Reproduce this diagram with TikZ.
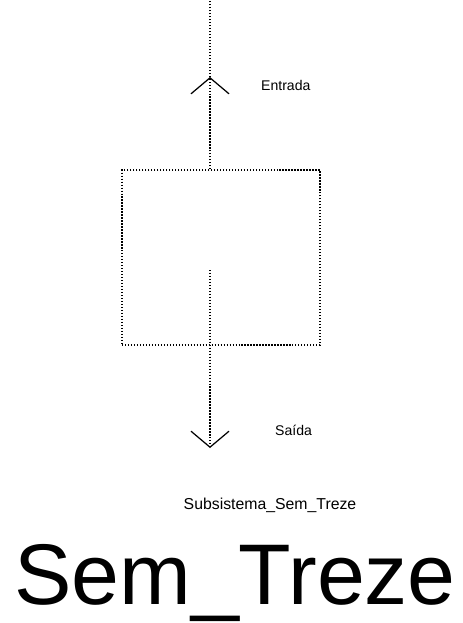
\documentclass[tikz,border=0pt]{standalone}
\usepackage{fontspec}
\setmainfont{Liberation Sans}
\usetikzlibrary{arrows.meta, positioning}

\begin{document}
\begin{tikzpicture}[x=0.02cm, y=-0.02cm,
      line/.style  = {densely dotted, line width=0.7pt},
      block/.style = {draw, densely dotted, line width=0.7pt,
                      minimum width=3.96cm, minimum height=3.5cm,
                      inner sep=0pt},
      flow/.style  = {line, -{Straight Barb[length=0.32cm, width=0.76cm]}},
      port/.style  = {font=\fontsize{8}{9}\selectfont, anchor=west},
      title/.style = {font=\fontsize{49}{56}\selectfont, anchor=base}
    ]
    \useasboundingbox (0,0) rectangle (463,623);

    \node[block] (sys) at (221,257.5) {};

    \coordinate (top)   at (210,0);
    \coordinate (tipup) at (210,77);
    \coordinate (stub)  at (210,270);
    \coordinate (tipdn) at (210,448);

    \draw[flow] (sys.north -| top) -- (tipup);
    \draw[line] (tipup) -- (top);
    \draw[flow] (stub) -- (tipdn);

    \node[port]  (inlbl)  at (255,85)  {Entrada};
    \node[port]  (outlbl) at (269,430) {Saída};

    \node[font=\fontsize{9}{10}\selectfont] (sub) at (270,505) {Subsistema\_Sem\_Treze};
    \node[title] (name) at (235,604) {Sem\_Treze};
  \end{tikzpicture}
\end{document}
